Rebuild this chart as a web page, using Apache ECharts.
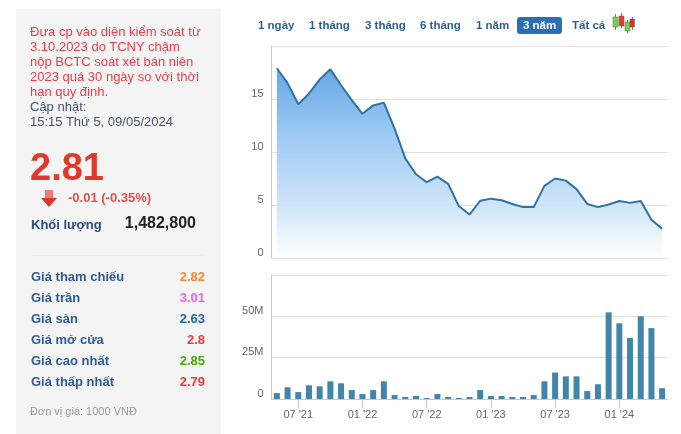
<!DOCTYPE html>
<html>
<head>
<meta charset="utf-8">
<script src="https://cdn.jsdelivr.net/npm/echarts@6/dist/echarts.min.js"></script>
<style>
  html, body { margin: 0; padding: 0; background: #fff; }
  body { width: 681px; height: 434px; position: relative; overflow: hidden; font-family: "Liberation Sans", Arial, sans-serif; }
  #main { position: absolute; left: 0; top: 0; width: 681px; height: 434px; }
  #panel { position: absolute; left: 16px; top: 9px; width: 205px; height: 425px; background: #f4f4f4; }
  .t { position: absolute; white-space: nowrap; }
  .note { left: 30px; top: 24px; font-size: 13px; line-height: 15px; color: #ee3d48; }
  .updated { left: 30px; top: 99px; font-size: 13px; line-height: 15px; color: #44546a; }
  .price { left: 30px; top: 144px; font-size: 38px; line-height: 46px; font-weight: bold; color: #e0392b; }
  .change { left: 68px; top: 190px; font-size: 13px; line-height: 16px; font-weight: bold; color: #e2504a; }
  .vol-label { left: 31px; top: 217px; font-size: 13px; line-height: 16px; font-weight: bold; color: #2c4d78; }
  .vol { right: 485px; top: 214px; font-size: 16px; line-height: 18px; font-weight: bold; color: #222; }
  .divider { position: absolute; left: 31px; top: 255px; width: 175px; height: 1px; background: #ececec; }
  .row-label { left: 31px; font-size: 13px; line-height: 16px; font-weight: bold; color: #2f5a96; }
  .row-value { right: 476px; font-size: 13px; line-height: 16px; font-weight: bold; }
  .unit { left: 30px; top: 404px; font-size: 11px; line-height: 14px; color: #9a9a9a; }
  .btn { top: 18px; font-size: 11.5px; line-height: 15px; font-weight: bold; color: #2b5f94; }
  .btn.active { left: 517px; top: 17px; width: 45px; height: 17px; line-height: 17px; background: #2a6fb5; color: #fff; border-radius: 3px; text-align: center; }
</style>
</head>
<body>
<div id="panel"></div>
<div id="main"></div>
<div id="texts"></div>
<svg class="t" style="left:40px;top:189px" width="18" height="19" viewBox="0 0 18 19">
  <rect x="5" y="1" width="8" height="9" fill="#ee7c78"/>
  <path d="M1 9 H17 L9 18 Z" fill="#d6382f"/>
</svg>
<svg class="t" style="left:612px;top:12px" width="23" height="22" viewBox="0 0 23 22">
  <path d="M3.5 2 V18 M9.5 1 V16 M15.5 8 V21 M20.5 5 V18" stroke="#777" stroke-width="1"/>
  <rect x="1" y="5" width="5" height="10" fill="#6fd84a" stroke="#666" stroke-width="0.5"/>
  <rect x="7" y="4" width="5" height="10" fill="#e8392b" stroke="#666" stroke-width="0.5"/>
  <rect x="13" y="10" width="5" height="9" fill="#6fd84a" stroke="#666" stroke-width="0.5"/>
  <rect x="18" y="7" width="4.5" height="8" fill="#d8322a" stroke="#666" stroke-width="0.5"/>
</svg>
<script>
var months = [
  "05 '21", "06 '21", "07 '21", "08 '21", "09 '21", "10 '21", "11 '21", "12 '21",
  "01 '22", "02 '22", "03 '22", "04 '22", "05 '22", "06 '22", "07 '22", "08 '22",
  "09 '22", "10 '22", "11 '22", "12 '22", "01 '23", "02 '23", "03 '23", "04 '23",
  "05 '23", "06 '23", "07 '23", "08 '23", "09 '23", "10 '23", "11 '23", "12 '23",
  "01 '24", "02 '24", "03 '24", "04 '24", "05 '24"
];
var shownMonths = ["07 '21", "01 '22", "07 '22", "01 '23", "07 '23", "01 '24"];
var prices = [
  17.9, 16.5, 14.5, 15.5, 16.85, 17.8, 16.3, 14.9, 13.6, 14.4, 14.65, 12.2, 9.4,
  7.9, 7.15, 7.67, 7.0, 4.9, 4.1, 5.4, 5.6, 5.45, 5.1, 4.8, 4.8, 6.8, 7.5, 7.3,
  6.5, 5.1, 4.8, 5.05, 5.37, 5.2, 5.37, 3.6, 2.75
];
var volumes = [
  3.6, 7.1, 4.2, 8.3, 7.7, 10.7, 9.5, 5.4, 3, 5.4, 10.7, 2.4, 1.2, 1.8, 0.6, 3,
  1.2, 0.6, 1.2, 5.4, 1.8, 1.8, 1.2, 1.2, 2.4, 10.7, 16, 13.7, 13.7, 4.8, 8.9,
  52.4, 45.8, 36.9, 50, 42.9, 6.5
];
var priceTicks = ["0", "5", "10", "15"];
var volumeTicks = ["0", "25M", "50M"];

var noteLines = [
  "Đưa cp vào diện kiểm soát từ",
  "3.10.2023 do TCNY chậm",
  "nộp BCTC soát xét bán niên",
  "2023 quá 30 ngày so với thời",
  "hạn quy định."
];
var statLabels = ["Giá tham chiếu", "Giá trần", "Giá sàn", "Giá mở cửa", "Giá cao nhất", "Giá thấp nhất"];
var statValues = ["2.82", "3.01", "2.63", "2.8", "2.85", "2.79"];
var statColors = ["#ff8533", "#f062f0", "#1f6aa5", "#e83a3a", "#46a80a", "#e83a3a"];
var rangeLabels = ["1 ngày", "1 tháng", "3 tháng", "6 tháng", "1 năm"];
var rangeLefts = [258, 309, 365, 420, 476];

var html = '';
html += '<div class="t note">' + noteLines.join('<br>') + '</div>';
html += '<div class="t updated">Cập nhật:<br>15:15 Thứ 5, 09/05/2024</div>';
html += '<div class="t price">2.81</div>';
html += '<div class="t change">-0.01 (-0.35%)</div>';
html += '<div class="t vol-label">Khối lượng</div>';
html += '<div class="t vol">1,482,800</div>';
html += '<div class="divider"></div>';
statLabels.forEach(function (label, i) {
  var top = 269 + i * 21;
  html += '<div class="t row-label" style="top:' + top + 'px">' + label + '</div>';
  html += '<div class="t row-value" style="top:' + top + 'px;color:' + statColors[i] + '">' + statValues[i] + '</div>';
});
html += '<div class="t unit">Đơn vị giá: 1000 VNĐ</div>';
rangeLabels.forEach(function (label, i) {
  html += '<div class="t btn" style="left:' + rangeLefts[i] + 'px">' + label + '</div>';
});
html += '<div class="t btn active">3 năm</div>';
html += '<div class="t btn" style="left:572px">Tất cả</div>';
document.getElementById('texts').innerHTML = html;

var gridLine = { show: true, lineStyle: { color: '#e0e0e6', width: 1 } };
var axisBlue = '#c0c8e8';
var labelStyle = { color: '#666', fontSize: 11, fontFamily: '"Liberation Sans", Arial, sans-serif', verticalAlign: 'bottom', margin: 8 };

var myChart = echarts.init(document.getElementById('main'), null, { renderer: 'canvas' });
var option = {
  animation: false,
  backgroundColor: 'transparent',
  grid: [
    { left: 271.5, width: 396, top: 46, height: 212 },
    { left: 271.5, width: 396, top: 275, height: 124 }
  ],
  xAxis: [
    {
      type: 'category', gridIndex: 0, data: months, boundaryGap: true,
      axisLine: { show: true, lineStyle: { color: '#dfe1ea' } },
      axisTick: { show: false }, axisLabel: { show: false }
    },
    {
      type: 'category', gridIndex: 1, data: months, boundaryGap: true,
      axisLine: { show: true, lineStyle: { color: axisBlue } },
      axisTick: {
        show: true, length: 9, alignWithLabel: true,
        lineStyle: { color: axisBlue },
        interval: function (i, name) { return shownMonths.indexOf(name) !== -1; }
      },
      axisLabel: {
        color: '#666', fontSize: 11, margin: 10,
        fontFamily: '"Liberation Sans", Arial, sans-serif',
        interval: function (i, name) { return shownMonths.indexOf(name) !== -1; }
      }
    }
  ],
  yAxis: [
    {
      type: 'value', gridIndex: 0, min: 0, max: 20, interval: 5,
      axisLine: { show: true, lineStyle: { color: axisBlue } },
      axisTick: { show: false }, splitLine: gridLine,
      axisLabel: Object.assign({}, labelStyle, {
        formatter: function (v, i) { return priceTicks[i] || ''; }
      })
    },
    {
      type: 'value', gridIndex: 1, min: 0, max: 75, interval: 25,
      axisLine: { show: true, lineStyle: { color: axisBlue } },
      axisTick: { show: false }, splitLine: gridLine,
      axisLabel: Object.assign({}, labelStyle, {
        formatter: function (v, i) { return volumeTicks[i] || ''; }
      })
    }
  ],
  series: [
    {
      type: 'line', xAxisIndex: 0, yAxisIndex: 0, data: prices,
      symbol: 'none', smooth: false,
      lineStyle: { color: '#2f72a5', width: 2 },
      areaStyle: {
        opacity: 0.92,
        color: new echarts.graphic.LinearGradient(0, 0, 0, 1, [
          { offset: 0, color: '#5a9fe3' },
          { offset: 0.33, color: '#91c3f3' },
          { offset: 0.72, color: '#cbe3fa' },
          { offset: 1, color: '#ffffff' }
        ])
      }
    },
    {
      type: 'bar', xAxisIndex: 1, yAxisIndex: 1, data: volumes,
      barWidth: 6, itemStyle: { color: '#4285a9' }
    }
  ]
};
myChart.setOption(option);
</script>
</body>
</html>
